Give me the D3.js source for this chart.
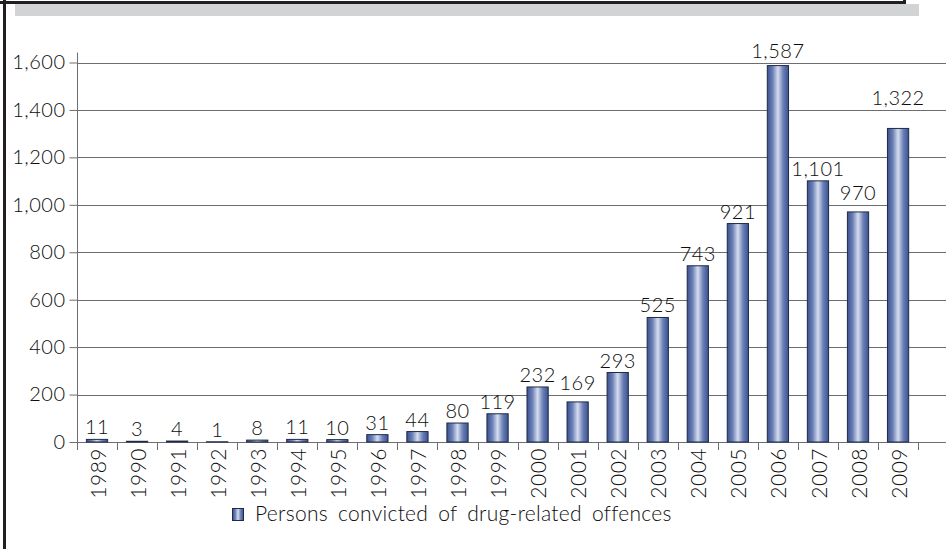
<!DOCTYPE html>
<html>
<head>
<meta charset="utf-8">
<script src="https://cdn.jsdelivr.net/npm/d3@7"></script>
<style>
  html, body { margin: 0; padding: 0; background: #fff; }
  svg { display: block; }
  text { font-family: Lato, "Open Sans", sans-serif; font-weight: 300; fill: #0d0d0d; }
</style>
</head>
<body>
<svg id="chart" width="946" height="549"></svg>
<script>
// Persons convicted of drug-related offences, by year
const years = ["1989","1990","1991","1992","1993","1994","1995","1996","1997","1998","1999",
               "2000","2001","2002","2003","2004","2005","2006","2007","2008","2009"];
const convicted = [11, 3, 4, 1, 8, 11, 10, 31, 44, 80, 119, 232, 169, 293, 525, 743, 921, 1587, 1101, 970, 1322];
const yTicks = [0, 200, 400, 600, 800, 1000, 1200, 1400, 1600];
const seriesName = "Persons convicted of drug-related offences";
// labels that sit above the gridline crossing their bar top
const raisedLabels = new Set(["2001", "2006", "2008", "2009"]);

const svg = d3.select("#chart");
const W = 946, H = 549;
const plot = { left: 77, right: 918.1, top: 52.5, bottom: 442 };
const textColor = "#0d0d0d";

// page frame: box edge with a grey shadow band and a left rule
const defs = svg.append("defs");
svg.append("rect").attr("x", 15).attr("y", 4).attr("width", 904).attr("height", 12).attr("fill", "#d1d3d4");
svg.append("rect").attr("x", 0).attr("y", 1).attr("width", 906).attr("height", 3).attr("fill", "#231f20");
svg.append("rect").attr("x", 903).attr("y", 0).attr("width", 3).attr("height", 4).attr("fill", "#231f20");
svg.append("rect").attr("x", 3).attr("y", 0).attr("width", 3).attr("height", H).attr("fill", "#231f20");

// bar shading: dark blue edges, pale centre
const grad = defs.append("linearGradient").attr("id", "barFill")
  .attr("x1", "0%").attr("x2", "100%").attr("y1", "0%").attr("y2", "0%");
[["0%", "#3b5290"], ["25%", "#6a7fb5"], ["50%", "#d6ddef"], ["75%", "#6a7fb5"], ["100%", "#3b5290"]]
  .forEach(([o, c]) => grad.append("stop").attr("offset", o).attr("stop-color", c));

const x = d3.scaleBand().domain(years).range([plot.left, plot.right])
  .paddingInner(0.47).paddingOuter(0.235);
const y = d3.scaleLinear().domain([0, 1600]).range([plot.bottom, 62.5]);

const gridColor = "#6d6e71";

// horizontal gridlines
svg.append("g").selectAll("line").data(yTicks.filter(d => d > 0)).join("line")
  .attr("x1", plot.left).attr("x2", W)
  .attr("y1", d => Math.round(y(d)) + 0.5).attr("y2", d => Math.round(y(d)) + 0.5)
  .attr("stroke", gridColor).attr("stroke-width", 1);

// y axis
const yAxis = svg.append("g").attr("transform", `translate(${plot.left + 0.5},0)`)
  .call(d3.axisLeft(y).tickValues(yTicks).tickSize(8).tickPadding(4).tickFormat(d3.format(",")));
yAxis.select(".domain").remove();
yAxis.selectAll(".tick line").attr("stroke", gridColor);
yAxis.selectAll(".tick text").attr("font-size", 20).attr("fill", textColor)
  .attr("font-family", "Lato, 'Open Sans', sans-serif").attr("font-weight", 300)
  .attr("letter-spacing", 0.5);
svg.append("line").attr("x1", plot.left + 0.5).attr("x2", plot.left + 0.5)
  .attr("y1", plot.top).attr("y2", plot.bottom + 8).attr("stroke", gridColor);

// x axis baseline and category boundary ticks
svg.append("line").attr("x1", plot.left).attr("x2", W)
  .attr("y1", plot.bottom + 0.5).attr("y2", plot.bottom + 0.5).attr("stroke", gridColor);
const step = x.step();
const bounds = d3.range(years.length + 1).map(i => x(years[0]) - step * x.paddingOuter() + i * step);
svg.append("g").selectAll("line").data(bounds.slice(1)).join("line")
  .attr("x1", d => Math.round(d) + 0.5).attr("x2", d => Math.round(d) + 0.5)
  .attr("y1", plot.bottom).attr("y2", plot.bottom + 8).attr("stroke", gridColor);

// year labels, rotated
svg.append("g").selectAll("text").data(years).join("text")
  .attr("transform", d => `translate(${x(d) + x.bandwidth() / 2 + 1},${plot.bottom + 6}) rotate(-90)`)
  .attr("text-anchor", "end").attr("dy", "0.36em").attr("font-size", 21)
  .attr("letter-spacing", 0.5)
  .text(d => d);

// bars
const rows = years.map((yr, i) => ({ year: yr, value: convicted[i] }));
svg.append("g").selectAll("rect").data(rows).join("rect")
  .attr("x", d => x(d.year)).attr("width", x.bandwidth())
  .attr("y", d => y(d.value)).attr("height", d => plot.bottom - y(d.value))
  .attr("fill", "url(#barFill)").attr("stroke", "#1f2a48").attr("stroke-width", 1);

// value labels
const fmt = d3.format(",");
function labelBaseline(d) {
  const top = y(d.value);
  if (raisedLabels.has(d.year)) {
    const grid = yTicks.map(y).filter(g => g < top + 6).sort((a, b) => b - a)[0];
    return grid - 5;
  }
  return top - 5;
}
svg.append("g").selectAll("text").data(rows).join("text")
  .attr("x", d => x(d.year) + x.bandwidth() / 2)
  .attr("y", d => labelBaseline(d))
  .attr("text-anchor", "middle").attr("font-size", 20).attr("letter-spacing", 0.5)
  .text(d => fmt(d.value));

// legend
const legend = svg.append("g");
legend.append("rect").attr("x", 232.5).attr("y", 508.5).attr("width", 11).attr("height", 12)
  .attr("fill", "url(#barFill)").attr("stroke", "#1f2a48");
legend.append("text").attr("x", 255).attr("y", 521).attr("font-size", 21)
  .attr("letter-spacing", 0.3).attr("word-spacing", 4).text(seriesName);
</script>
</body>
</html>
